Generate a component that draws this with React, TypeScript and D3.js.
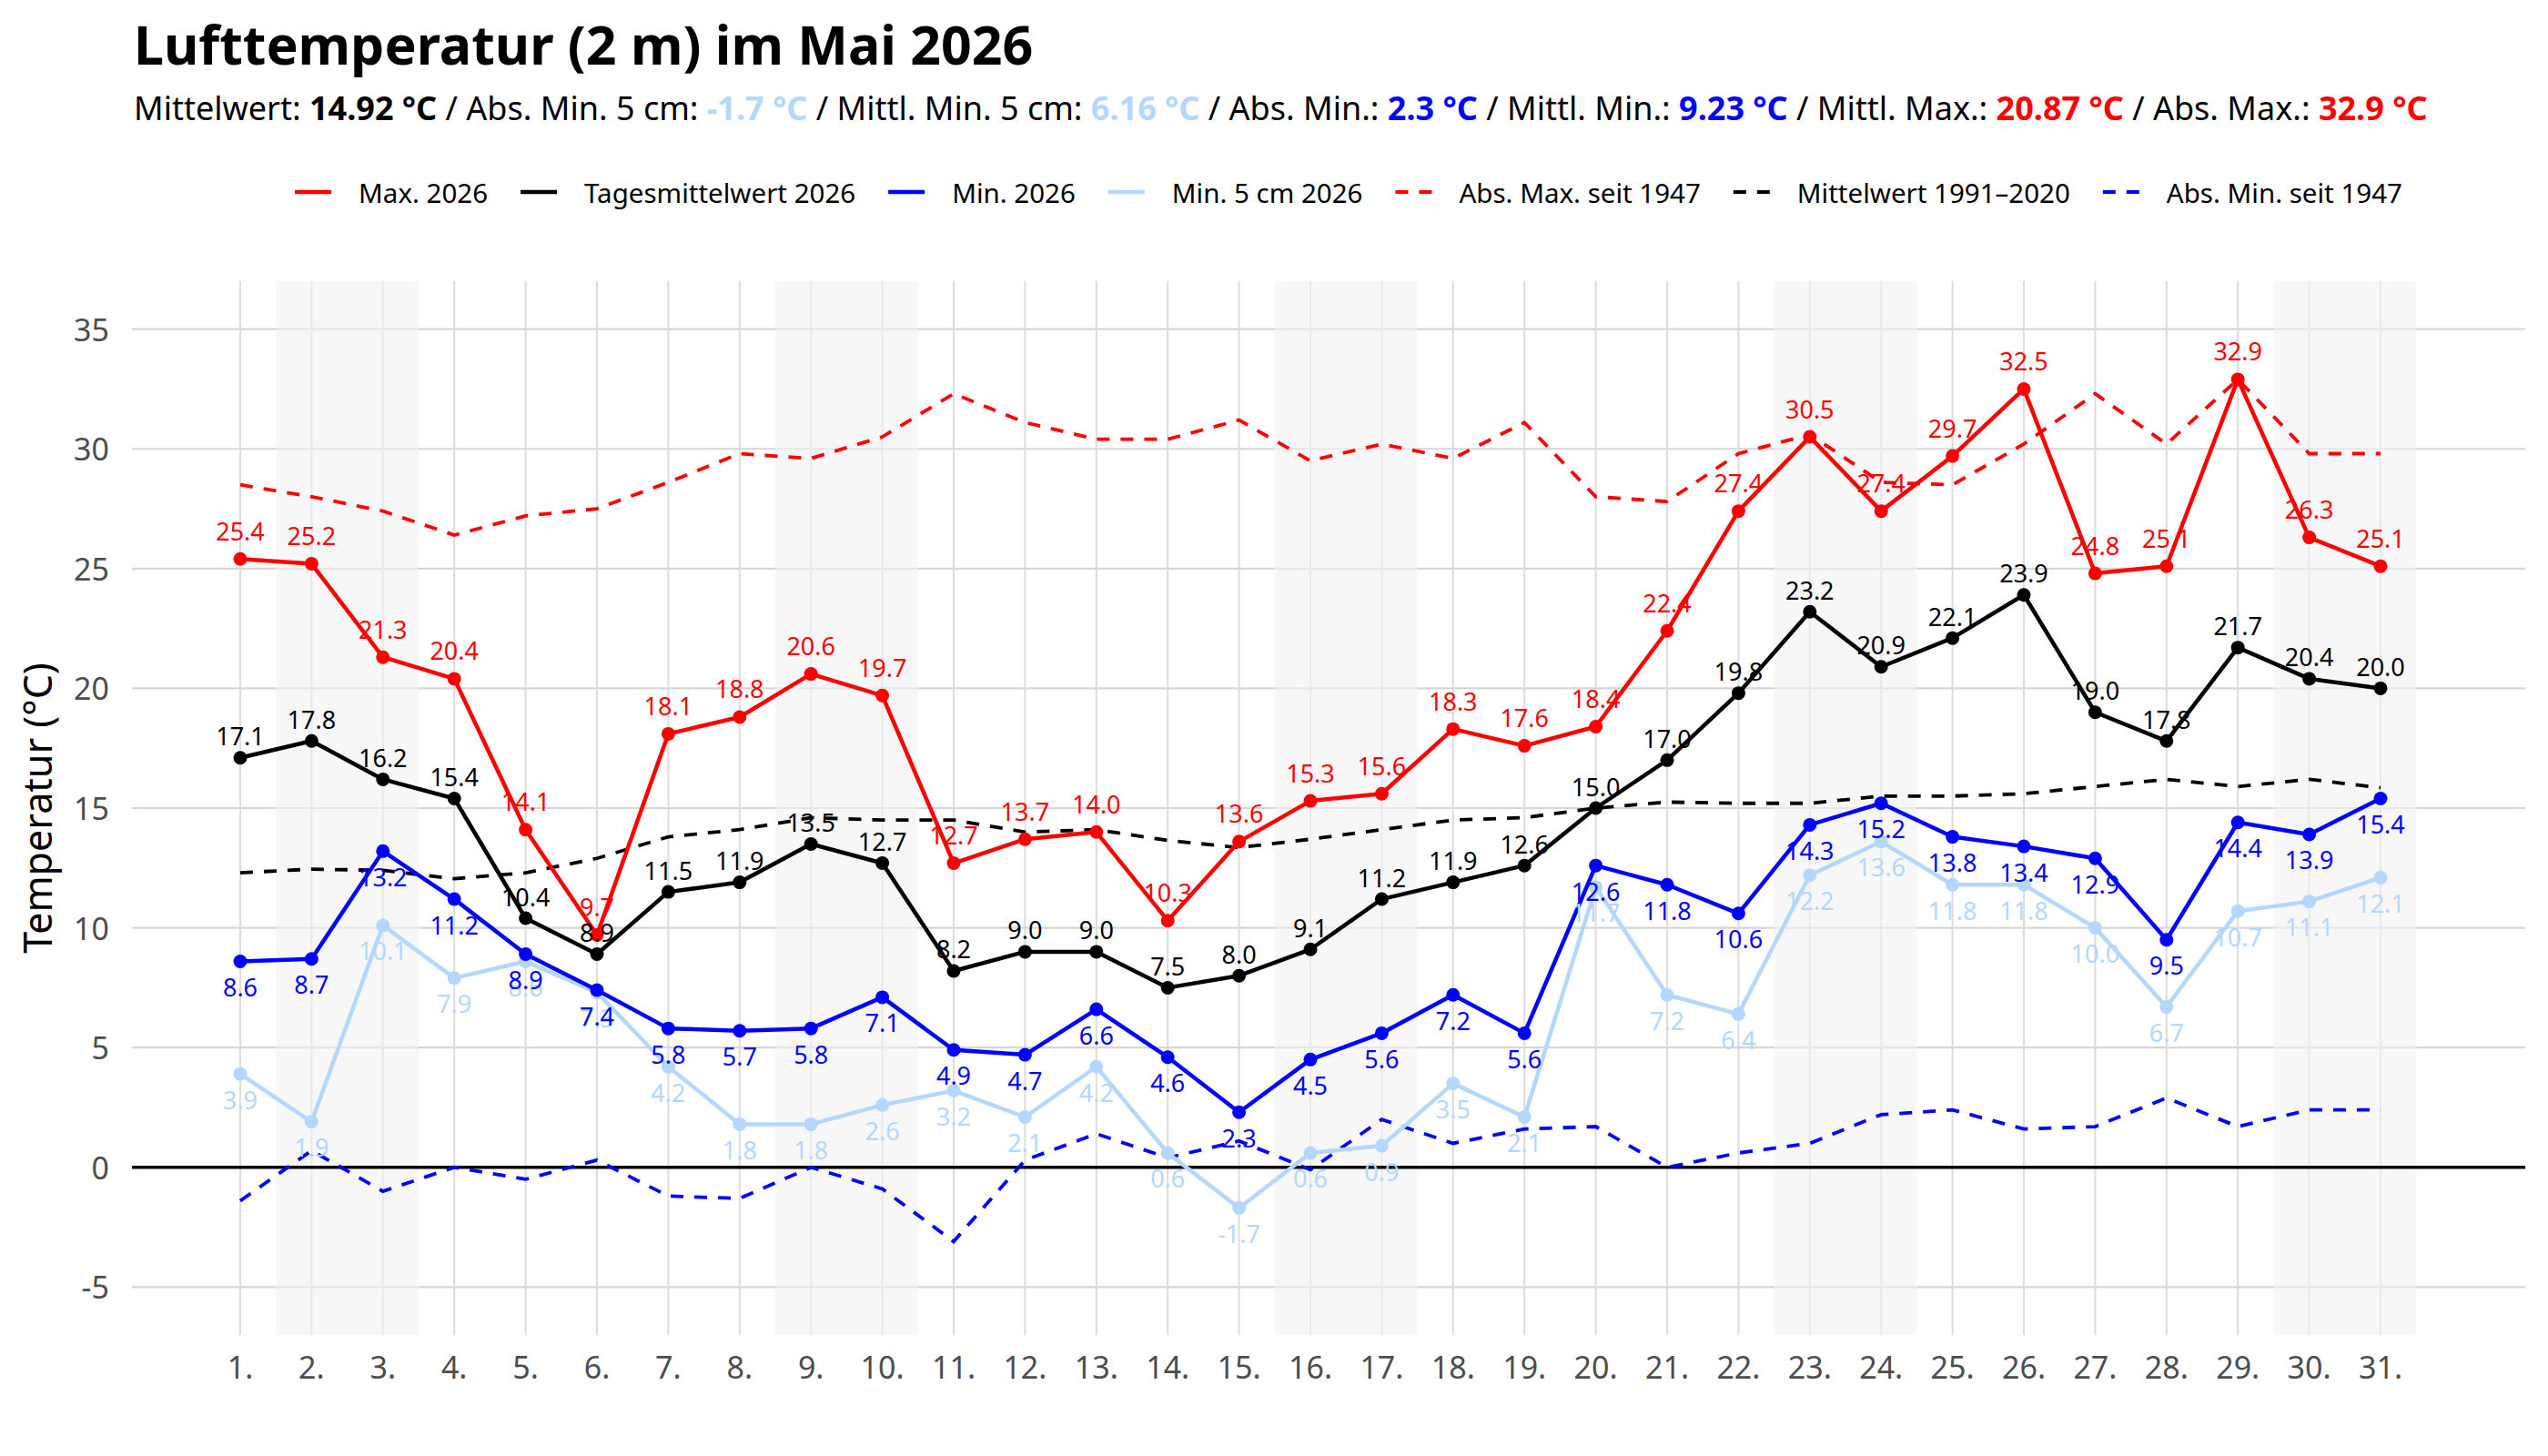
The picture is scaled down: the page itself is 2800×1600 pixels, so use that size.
import React, { useEffect, useRef } from "react";
import * as d3 from "d3";

// days of May 2026
const days = [1, 2, 3, 4, 5, 6, 7, 8, 9, 10, 11, 12, 13, 14, 15, 16, 17, 18, 19, 20, 21, 22, 23, 24, 25, 26, 27, 28, 29, 30, 31];
const weekendStarts = [2, 9, 16, 23, 30];
const yTicks = [-5, 0, 5, 10, 15, 20, 25, 30, 35];

const maxT = [25.4, 25.2, 21.3, 20.4, 14.1, 9.7, 18.1, 18.8, 20.6, 19.7, 12.7, 13.7, 14.0, 10.3, 13.6, 15.3, 15.6, 18.3, 17.6, 18.4, 22.4, 27.4, 30.5, 27.4, 29.7, 32.5, 24.8, 25.1, 32.9, 26.3, 25.1];
const meanT = [17.1, 17.8, 16.2, 15.4, 10.4, 8.9, 11.5, 11.9, 13.5, 12.7, 8.2, 9.0, 9.0, 7.5, 8.0, 9.1, 11.2, 11.9, 12.6, 15.0, 17.0, 19.8, 23.2, 20.9, 22.1, 23.9, 19.0, 17.8, 21.7, 20.4, 20.0];
const minT = [8.6, 8.7, 13.2, 11.2, 8.9, 7.4, 5.8, 5.7, 5.8, 7.1, 4.9, 4.7, 6.6, 4.6, 2.3, 4.5, 5.6, 7.2, 5.6, 12.6, 11.8, 10.6, 14.3, 15.2, 13.8, 13.4, 12.9, 9.5, 14.4, 13.9, 15.4];
const min5cm = [3.9, 1.9, 10.1, 7.9, 8.6, 7.3, 4.2, 1.8, 1.8, 2.6, 3.2, 2.1, 4.2, 0.6, -1.7, 0.6, 0.9, 3.5, 2.1, 11.7, 7.2, 6.4, 12.2, 13.6, 11.8, 11.8, 10.0, 6.7, 10.7, 11.1, 12.1];

// climatology
const absMaxSince1947 = [28.5, 28.0, 27.4, 26.4, 27.2, 27.5, 28.6, 29.8, 29.6, 30.5, 32.3, 31.1, 30.4, 30.4, 31.2, 29.5, 30.2, 29.6, 31.1, 28.0, 27.8, 29.8, 30.6, 28.6, 28.5, 30.2, 32.3, 30.2, 32.9, 29.8, 29.8];
const mean1991_2020 = [12.3, 12.45, 12.4, 12.05, 12.3, 12.9, 13.8, 14.1, 14.6, 14.5, 14.5, 14.0, 14.1, 13.65, 13.35, 13.7, 14.1, 14.5, 14.6, 15.0, 15.25, 15.2, 15.2, 15.5, 15.5, 15.6, 15.9, 16.2, 15.9, 16.2, 15.85];
const absMinSince1947 = [-1.4, 0.7, -1.0, 0.0, -0.5, 0.3, -1.2, -1.3, 0.0, -0.9, -3.1, 0.3, 1.4, 0.4, 1.1, -0.1, 2.0, 1.0, 1.6, 1.7, 0.0, 0.6, 1.0, 2.2, 2.4, 1.6, 1.7, 2.9, 1.7, 2.4, 2.4];

// subtitle summary (as printed in the source)
const summaryLabels = ["Mittelwert: ", "Abs. Min. 5 cm: ", "Mittl. Min. 5 cm: ", "Abs. Min.: ", "Mittl. Min.: ", "Mittl. Max.: ", "Abs. Max.: "];
const summaryValues = ["14.92 °C", "-1.7 °C", "6.16 °C", "2.3 °C", "9.23 °C", "20.87 °C", "32.9 °C"];

const RED = "#ff0000";
const BLUE = "#0000ff";
const LIGHT = "#b3d7ff";
const summaryColors = ["#000", LIGHT, LIGHT, BLUE, BLUE, RED, RED];
const FONT = "'Noto Sans', sans-serif";

export default function App() {
  const ref = useRef<SVGSVGElement>(null);

  useEffect(() => {
    document.body.style.margin = "0";
    const svg = d3.select(ref.current);
    svg.selectAll("*").remove();

    const panel = { left: 145, right: 2775, top: 309, bottom: 1467 };
    const x = d3.scaleLinear().domain([1, 31]).range([264, 2616]);
    const y = d3.scaleLinear().domain([-7, 37]).range([panel.bottom, panel.top]);
    const step = x(2) - x(1);

    // 1) TITLE + SUMMARY
    svg.append("text")
      .attr("x", 147).attr("y", 71)
      .attr("font-family", FONT).attr("font-weight", 700).attr("font-size", 59)
      .text("Lufttemperatur (2 m) im Mai 2026");

    const sub = svg.append("text")
      .attr("x", 147).attr("y", 132)
      .attr("font-family", FONT).attr("font-size", 36)
      .attr("xml:space", "preserve");
    summaryLabels.forEach((lab, i) => {
      sub.append("tspan").text((i > 0 ? " / " : "") + lab);
      sub.append("tspan").attr("font-weight", 700).attr("fill", summaryColors[i]).text(summaryValues[i]);
    });

    // 2) LEGEND
    const legendItems = [
      { label: "Max. 2026", color: RED, dash: null },
      { label: "Tagesmittelwert 2026", color: "#000", dash: null },
      { label: "Min. 2026", color: BLUE, dash: null },
      { label: "Min. 5 cm 2026", color: LIGHT, dash: null },
      { label: "Abs. Max. seit 1947", color: RED, dash: "14 12" },
      { label: "Mittelwert 1991–2020", color: "#000", dash: "14 12" },
      { label: "Abs. Min. seit 1947", color: BLUE, dash: "14 12" },
    ];
    const legend = svg.append("g");
    const ly = 211;
    let lx = 0;
    legendItems.forEach(item => {
      legend.append("line")
        .attr("x1", lx).attr("x2", lx + 40).attr("y1", ly).attr("y2", ly)
        .attr("stroke", item.color).attr("stroke-width", item.dash ? 3.8 : 4.5)
        .attr("stroke-dasharray", item.dash);
      const t = legend.append("text")
        .attr("x", lx + 70).attr("y", ly)
        .attr("dominant-baseline", "central")
        .attr("font-family", FONT).attr("font-size", 29.5)
        .text(item.label);
      lx += 70 + (t.node() as SVGTextElement).getComputedTextLength() + 36;
    });
    const legendWidth = lx - 36;
    legend.attr("transform", `translate(${1482 - legendWidth / 2},0)`);

    // 3) PANEL: GRID + WEEKENDS
    const g = svg.append("g");
    g.selectAll("line.hgrid").data(yTicks).enter().append("line")
      .attr("x1", panel.left).attr("x2", panel.right)
      .attr("y1", d => y(d)).attr("y2", d => y(d))
      .attr("stroke", "#d6d6d6").attr("stroke-width", 2.2);
    g.selectAll("line.vgrid").data(days).enter().append("line")
      .attr("x1", d => x(d)).attr("x2", d => x(d))
      .attr("y1", panel.top).attr("y2", panel.bottom)
      .attr("stroke", "#dcdcdc").attr("stroke-width", 2);
    g.selectAll("rect.weekend").data(weekendStarts).enter().append("rect")
      .attr("x", d => x(d - 0.5)).attr("width", 2 * step)
      .attr("y", panel.top).attr("height", panel.bottom - panel.top)
      .attr("fill", "#f2f2f2").attr("opacity", 0.6);
    g.append("line")
      .attr("x1", panel.left).attr("x2", panel.right)
      .attr("y1", y(0)).attr("y2", y(0))
      .attr("stroke", "#000").attr("stroke-width", 3.5);

    // 4) AXES TEXT
    svg.selectAll("text.ytick").data(yTicks).enter().append("text")
      .attr("x", 120).attr("y", d => y(d))
      .attr("text-anchor", "end").attr("dominant-baseline", "central")
      .attr("font-family", FONT).attr("font-size", 34).attr("fill", "#4d4d4d")
      .text(d => d);
    svg.selectAll("text.xtick").data(days).enter().append("text")
      .attr("x", d => x(d)).attr("y", 1502)
      .attr("text-anchor", "middle").attr("dominant-baseline", "central")
      .attr("font-family", FONT).attr("font-size", 34).attr("fill", "#4d4d4d")
      .text(d => `${d}.`);
    svg.append("text")
      .attr("transform", `translate(40,${(panel.top + panel.bottom) / 2}) rotate(-90)`)
      .attr("text-anchor", "middle").attr("dominant-baseline", "central")
      .attr("font-family", FONT).attr("font-size", 43)
      .text("Temperatur (°C)");

    // 5) CLIMATOLOGY (dashed)
    const line = d3.line<number>().x((_, i) => x(days[i])).y(d => y(d));
    [
      { values: absMaxSince1947, color: RED },
      { values: mean1991_2020, color: "#000" },
      { values: absMinSince1947, color: BLUE },
    ].forEach(s => {
      g.append("path").attr("d", line(s.values))
        .attr("fill", "none").attr("stroke", s.color)
        .attr("stroke-width", 3.8).attr("stroke-dasharray", "14 12");
    });

    // 6) 2026 SERIES
    const series = [
      { values: min5cm, color: LIGHT, dy: 28 },
      { values: minT, color: BLUE, dy: 28 },
      { values: meanT, color: "#000", dy: -24 },
      { values: maxT, color: RED, dy: -31 },
    ];
    series.forEach(s => {
      g.append("path").attr("d", line(s.values))
        .attr("fill", "none").attr("stroke", s.color)
        .attr("stroke-width", 4.5).attr("stroke-linejoin", "round");
      g.append("g").selectAll("circle").data(s.values).enter().append("circle")
        .attr("cx", (_, i) => x(days[i])).attr("cy", d => y(d)).attr("r", 7.5)
        .attr("fill", s.color);
    });
    series.forEach(s => {
      g.append("g").selectAll("text").data(s.values).enter().append("text")
        .attr("x", (_, i) => x(days[i])).attr("y", d => y(d) + s.dy)
        .attr("text-anchor", "middle").attr("dominant-baseline", "central")
        .attr("font-family", FONT).attr("font-size", 27).attr("fill", s.color)
        .text(d => d.toFixed(1));
    });
  }, []);

  return <svg ref={ref} width={2800} height={1600} style={{ display: "block", background: "#fff" }} />;
}
